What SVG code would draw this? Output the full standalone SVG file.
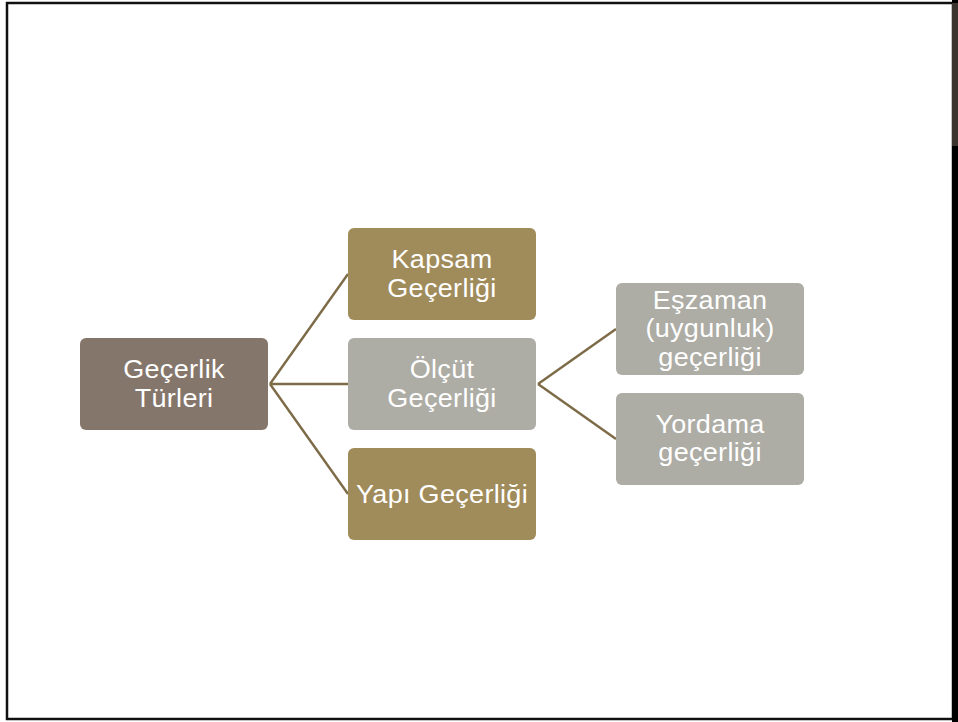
<svg xmlns="http://www.w3.org/2000/svg" width="958" height="722" viewBox="0 0 958 722">
<style>
.t{font-family:"Liberation Sans",Arial,sans-serif;font-size:25px;fill:#ffffff;text-anchor:middle;letter-spacing:0.3px}
.c{stroke:#7d6b47;stroke-width:2.4;fill:none}
</style>
<rect x="0" y="0" width="958" height="722" fill="#ffffff"/>
<g id="frame">
<rect x="7" y="3" width="946" height="716" fill="none" stroke="#111111" stroke-width="2.5"/>
<rect x="952" y="0" width="6" height="722" fill="#000000"/>
<rect x="952" y="3" width="6" height="143" fill="#3b342e"/>
</g>
<g id="connectors">
<line class="c" x1="270" y1="384" x2="348" y2="274"/>
<line class="c" x1="270" y1="384" x2="348" y2="384"/>
<line class="c" x1="270" y1="384" x2="348" y2="494"/>
<line class="c" x1="538" y1="384" x2="616" y2="329"/>
<line class="c" x1="538" y1="384" x2="616" y2="439"/>
</g>
<g id="root">
<rect x="80" y="338" width="188" height="92" rx="6" fill="#85766b"/>
<text class="t" transform="translate(174 377.5) scale(1.08 1)">Geçerlik</text>
<text class="t" transform="translate(174 406.5) scale(1.08 1)">Türleri</text>
</g>
<g id="kapsam">
<rect x="348" y="228" width="188" height="92" rx="6" fill="#a08b5b"/>
<text class="t" transform="translate(442 267.5) scale(1.08 1)">Kapsam</text>
<text class="t" transform="translate(442 296.5) scale(1.08 1)">Geçerliği</text>
</g>
<g id="olcut">
<rect x="348" y="338" width="188" height="92" rx="6" fill="#adaca5"/>
<text class="t" transform="translate(442 377.5) scale(1.08 1)">Ölçüt</text>
<text class="t" transform="translate(442 406.5) scale(1.08 1)">Geçerliği</text>
</g>
<g id="yapi">
<rect x="348" y="448" width="188" height="92" rx="6" fill="#a08b5b"/>
<text class="t" transform="translate(442 503) scale(1.08 1)">Yapı Geçerliği</text>
</g>
<g id="eszaman">
<rect x="616" y="283" width="188" height="92" rx="6" fill="#adaca5"/>
<text class="t" transform="translate(710 308.5) scale(1.08 1)">Eşzaman</text>
<text class="t" transform="translate(710 337) scale(1.08 1)">(uygunluk)</text>
<text class="t" transform="translate(710 365.5) scale(1.08 1)">geçerliği</text>
</g>
<g id="yordama">
<rect x="616" y="393" width="188" height="92" rx="6" fill="#adaca5"/>
<text class="t" transform="translate(710 433) scale(1.08 1)">Yordama</text>
<text class="t" transform="translate(710 461) scale(1.08 1)">geçerliği</text>
</g>
</svg>
